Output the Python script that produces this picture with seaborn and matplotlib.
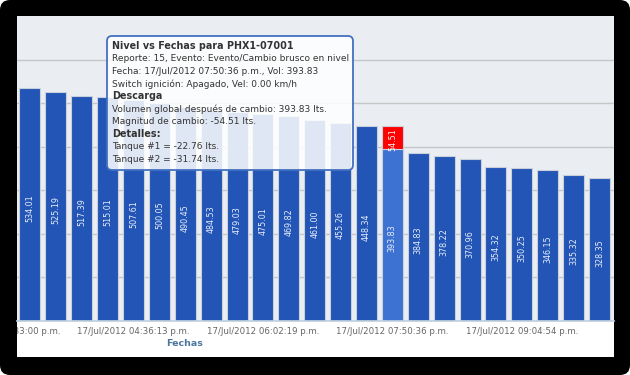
import numpy as np
import pandas as pd
import matplotlib
matplotlib.use('Agg')
import matplotlib.pyplot as plt
import seaborn as sns
from matplotlib.patches import FancyBboxPatch, Rectangle

# Nivel de combustible por reporte (lts)
nivel = [534.01, 525.19, 517.39, 515.01, 507.61, 500.05, 490.45, 484.53,
         479.03, 475.01, 469.82, 461.00, 455.26, 448.34, 393.83, 384.83,
         378.22, 370.96, 354.32, 350.25, 346.15, 335.32, 328.35]
idx_descarga = 14
magnitud = 54.51

tick_pos = [-1, 4, 9, 14, 19]
tick_labels = ['17/Jul/2012 03:33:00 p.m.', '17/Jul/2012 04:36:13 p.m.',
               '17/Jul/2012 06:02:19 p.m.', '17/Jul/2012 07:50:36 p.m.',
               '17/Jul/2012 09:04:54 p.m.']

tooltip_lines = [
    ('Nivel vs Fechas para PHX1-07001', True),
    ('Reporte: 15, Evento: Evento/Cambio brusco en nivel', False),
    ('Fecha: 17/Jul/2012 07:50:36 p.m., Vol: 393.83', False),
    ('Switch ignición: Apagado, Vel: 0.00 km/h', False),
    ('Descarga', True),
    ('Volumen global después de cambio: 393.83 lts.', False),
    ('Magnitud de cambio: -54.51 lts.', False),
    ('Detalles:', True),
    ('Tanque #1 = -22.76 lts.', False),
    ('Tanque #2 = -31.74 lts.', False),
]

sns.set_theme(style='white')
plt.rcParams['font.family'] = ['DejaVu Sans']

fig = plt.figure(figsize=(6.3, 3.75), dpi=100, facecolor='white')

# screenshot frame
frame = FancyBboxPatch((0.0, 0.0), 6.3, 3.75, boxstyle='round,pad=0,rounding_size=0.1',
                       transform=fig.dpi_scale_trans, fc='black', ec='none', zorder=-3)
fig.add_artist(frame)
panel = Rectangle((0.17, 0.18), 5.97, 3.41, transform=fig.dpi_scale_trans,
                  fc='white', ec='none', zorder=-2)
fig.add_artist(panel)

ax = fig.add_axes([0.17 / 6.3, 0.54 / 3.75, 5.97 / 6.3, 3.05 / 3.75])
ax.set_facecolor('#eaeef2')

df = pd.DataFrame({'pos': range(len(nivel)), 'nivel': nivel})
colores = ['#3e72d2' if i == idx_descarga else '#2255b5' for i in range(len(nivel))]
sns.barplot(data=df, x='pos', y='nivel', hue='pos', palette=colores, legend=False,
            width=0.81, saturation=1, edgecolor='#c8d0dc', linewidth=0.8, ax=ax)
ax.bar(idx_descarga, magnitud, bottom=nivel[idx_descarga], width=0.81,
       color='#ff0000', edgecolor='#c8d0dc', linewidth=0.8)

for i, v in enumerate(nivel):
    ax.text(i, v / 2 - 8, f'{v:.2f}', rotation=90, ha='center', va='center',
            fontsize=5.8, color='#e8eefa')
ax.text(idx_descarga, nivel[idx_descarga] + magnitud * 0.4, f'{magnitud:.2f}',
        rotation=90, ha='center', va='center', fontsize=5.8, color='#f4f4f4')

ax.set_xlim(-0.404, 22.56)
ax.set_ylim(0, 700)
ax.set_yticks(range(100, 700, 100))
ax.yaxis.grid(True, color='#c4c6c8', linewidth=1)
ax.set_axisbelow(True)
ax.tick_params(axis='y', length=0, labelleft=False)
ax.set_xticks([])
ax.set_xticks(np.arange(len(nivel) + 1) - 0.5, minor=True)
ax.tick_params(axis='x', which='minor', length=4, color='#c0d0e0', width=1)
ax.set_xlabel('')
ax.set_ylabel('')
for s in ['top', 'right', 'left']:
    ax.spines[s].set_visible(False)
ax.spines['bottom'].set_color('#c0d0e0')

for p, lab in zip(tick_pos, tick_labels):
    t = ax.text(p, -0.033, lab, transform=ax.get_xaxis_transform(), ha='center',
                va='center', fontsize=6.2, color='#666666', clip_on=True)
    t.set_clip_path(panel)

fig.text(1.85, 0.31, 'Fechas', transform=fig.dpi_scale_trans, ha='center', va='center',
         fontsize=6.8, fontweight='bold', color='#4d759e')

# tooltip
tip = FancyBboxPatch((1.07, 2.05), 2.46, 1.34, boxstyle='round,pad=0,rounding_size=0.05',
                     transform=fig.dpi_scale_trans, fc=(1, 1, 1, 0.86), ec='#4270c0',
                     linewidth=1.3, zorder=5)
fig.add_artist(tip)
for k, (line, bold) in enumerate(tooltip_lines):
    y = 3.75 - (0.46 + 0.126 * k)
    fig.text(1.125, y, line, transform=fig.dpi_scale_trans, ha='left', va='center',
             fontsize=6.9 if bold else 6.5, fontweight='bold' if bold else 'normal',
             color='#333333', zorder=6)

fig.savefig('out.png', dpi=100)
